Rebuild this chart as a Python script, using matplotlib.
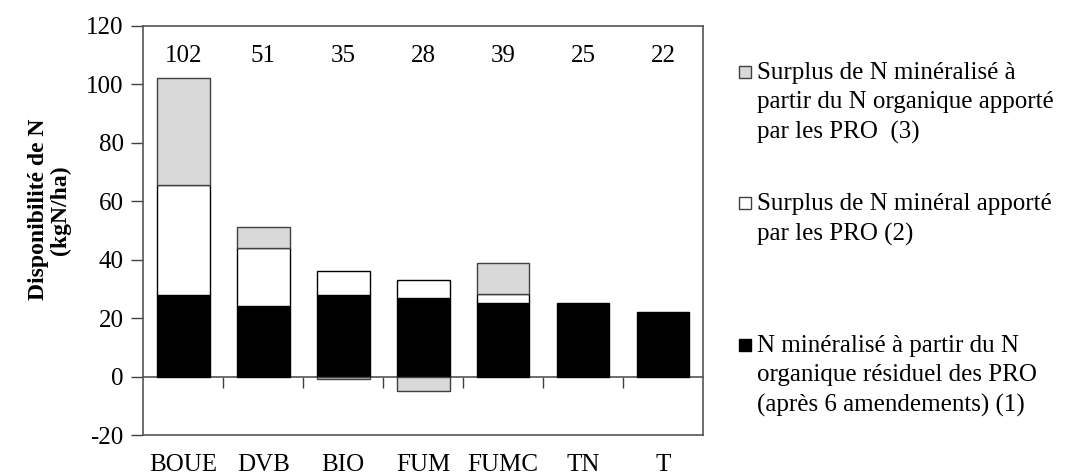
import matplotlib
matplotlib.use("Agg")
import matplotlib.pyplot as plt
from matplotlib.patches import Rectangle
import numpy as np

plt.rcParams['font.family'] = ['Liberation Serif', 'DejaVu Serif']
plt.rcParams['font.size'] = 18
plt.rcParams['axes.unicode_minus'] = False

categories = ["BOUE", "DVB", "BIO", "FUM", "FUMC", "TN", "T"]
n_residuel = [28, 24, 28, 27, 25.3, 25, 22]        # (1) noir
n_mineral = [37.5, 20, 8, 6, 3, 0, 0]              # (2) blanc
n_organique = [36.5, 7, -1, -5, 10.5, 0, 0]        # (3) gris
totaux = [102, 51, 35, 28, 39, 25, 22]

legend_labels = [
    "Surplus de N minéralisé à\npartir du N organique apporté\npar les PRO  (3)",
    "Surplus de N minéral apporté\npar les PRO (2)",
    "N minéralisé à partir du N\norganique résiduel des PRO\n(après 6 amendements) (1)",
]

x = np.arange(len(categories))
black = np.array(n_residuel)
white = np.array(n_mineral)
gray = np.array(n_organique)
w = 0.66

fig = plt.figure(figsize=(10.7, 4.75), dpi=100)
ax = fig.add_axes([0.1339, 0.0842, 0.5231, 0.8621])

ax.bar(x, black, w, color="black", edgecolor="black", linewidth=1)
m = white != 0
ax.bar(x[m], white[m], w, bottom=black[m], color="white", edgecolor="black", linewidth=1)
m = gray != 0
gray_bottom = np.where(gray >= 0, black + white, 0)
ax.bar(x[m], gray[m], w, bottom=gray_bottom[m], color="#d9d9d9", edgecolor="#404040", linewidth=1)

for i, t in enumerate(totaux):
    ax.text(x[i], 109.5, str(t), ha="center", va="center", fontsize=18)

ax.set_xlim(-0.5, len(categories) - 0.5)
ax.set_ylim(-20, 120)
ax.set_yticks(np.arange(-20, 121, 20))
ax.set_xticks(x)
ax.set_xticklabels(categories)
ax.tick_params(axis="x", length=0, pad=14)
ax.tick_params(axis="y", length=9, width=1, pad=5, color="#404040")
for s in ax.spines.values():
    s.set_color("#555555")
    s.set_linewidth(1.2)

# axe horizontal au niveau 0 avec les graduations entre catégories
sec = ax.secondary_xaxis(20 / 140)
sec.set_xticks(np.arange(0.5, len(categories) - 0.5, 1))
sec.set_xticklabels([])
sec.tick_params(length=8, direction="out", color="#404040", width=1)
sec.spines["bottom"].set_color("#555555")
sec.spines["bottom"].set_linewidth(1.2)

ax.set_ylabel("Disponibilité de N\n(kgN/ha)", fontweight="bold", fontsize=17, linespacing=1.05)
ax.yaxis.set_label_coords(-0.13, 0.55)

# légende
tops = [64, 195, 337]
fills = ["#d9d9d9", "white", "black"]
edges = ["#404040", "#404040", "black"]
for lab, top, fc, ec in zip(legend_labels, tops, fills, edges):
    fig.text(757 / 1070, 1 - (top - 2) / 475, lab, va="top", ha="left",
             fontsize=18, linespacing=1.42)
    fig.patches.append(Rectangle((739 / 1070, 1 - (top + 14) / 475), 12 / 1070, 12 / 475,
                                 transform=fig.transFigure, facecolor=fc,
                                 edgecolor=ec, linewidth=1))

fig.savefig("out.png", dpi=100)
